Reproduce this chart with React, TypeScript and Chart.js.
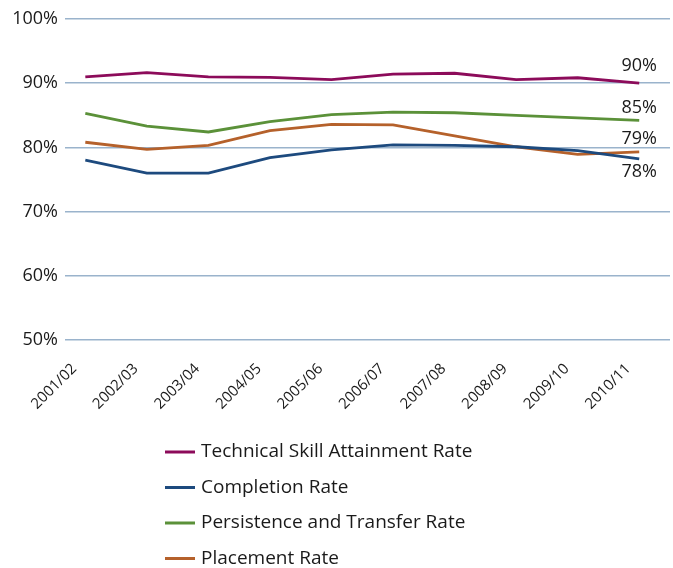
import React, { useEffect, useRef } from 'react';
import { Chart, registerables } from 'chart.js';

Chart.register(...registerables);

const categories = ['2001/02', '2002/03', '2003/04', '2004/05', '2005/06', '2006/07', '2007/08', '2008/09', '2009/10', '2010/11'];
const technicalSkill = [91.0, 91.65, 91.0, 90.9, 90.55, 91.4, 91.55, 90.55, 90.85, 90.0];
const completion = [78.0, 76.0, 76.0, 78.4, 79.6, 80.4, 80.3, 80.1, 79.5, 78.2];
const persistence = [85.3, 83.3, 82.4, 84.0, 85.1, 85.5, 85.4, 85.0, 84.6, 84.2];
const placement = [80.8, 79.7, 80.3, 82.6, 83.6, 83.5, 81.8, 80.1, 78.9, 79.3];
const seriesNames = ['Technical Skill Attainment Rate', 'Completion Rate', 'Persistence and Transfer Rate', 'Placement Rate'];
const endLabels = ['90%', '78%', '85%', '79%'];
const yMin = 50;
const yMax = 100;
const yStep = 10;

const colors = ['#8C0B5A', '#1D4A7E', '#5B9139', '#B5612B'];
const FONT = '"Open Sans", "Noto Sans", sans-serif';

const endLabelPlugin = {
  id: 'endLabels',
  afterDatasetsDraw(chart: any) {
    const ctx = chart.ctx;
    ctx.save();
    ctx.font = `18px ${FONT}`;
    ctx.fillStyle = '#1a1a1a';
    ctx.textAlign = 'center';
    ctx.textBaseline = 'middle';
    chart.data.datasets.forEach((ds: any, i: number) => {
      const meta = chart.getDatasetMeta(i);
      const pt = meta.data[meta.data.length - 1];
      if (!pt) return;
      const below = i === 1;
      const dy = below ? 13 : (i === 0 ? -17 : -13);
      ctx.fillText(endLabels[i], pt.x, pt.y + dy);
    });
    ctx.restore();
  },
};

const legendPlugin = {
  id: 'vertLegend',
  afterDraw(chart: any) {
    const ctx = chart.ctx;
    const top = chart.chartArea.bottom + 112;
    ctx.save();
    ctx.font = `19px ${FONT}`;
    ctx.textBaseline = 'middle';
    ctx.textAlign = 'left';
    chart.data.datasets.forEach((ds: any, i: number) => {
      const y = top + i * 35.5;
      ctx.strokeStyle = ds.borderColor;
      ctx.lineWidth = 3;
      ctx.beginPath();
      ctx.moveTo(165, y);
      ctx.lineTo(195, y);
      ctx.stroke();
      ctx.fillStyle = '#1a1a1a';
      ctx.fillText(ds.label, 201, y);
    });
    ctx.restore();
  },
};

export default function App() {
  const ref = useRef<HTMLCanvasElement>(null);
  useEffect(() => {
    if (!ref.current) return;
    const series = [technicalSkill, completion, persistence, placement];
    const chart = new Chart(ref.current, {
      type: 'line',
      data: {
        datasets: series.map((vals, i) => ({
          label: seriesNames[i],
          data: vals.map((v, k) => ({ x: k, y: v })),
          borderColor: colors[i],
          backgroundColor: colors[i],
          borderWidth: 2.8,
          pointRadius: 0,
          tension: 0,
          fill: false,
        })),
      },
      options: {
        animation: false,
        responsive: false,
        maintainAspectRatio: false,
        layout: { padding: { top: 19, right: 3, bottom: 148, left: 0 } },
        plugins: {
          legend: { display: false },
          tooltip: { enabled: false },
        },
        scales: {
          x: {
            type: 'linear',
            min: -0.33,
            max: 9.5,
            grid: { display: false },
            border: { display: false },
            afterFit: (scale: any) => { scale.height = 80; },
            ticks: {
              stepSize: 1,
              includeBounds: false,
              autoSkip: false,
              maxRotation: 45,
              minRotation: 45,
              padding: 12,
              labelOffset: -11,
              color: '#1a1a1a',
              font: { family: FONT, size: 15 },
              callback: (v: any) => (Number.isInteger(v) && categories[v] ? categories[v] : ''),
            },
          },
          y: {
            min: yMin,
            max: yMax,
            afterFit: (scale: any) => { scale.width = 65; },
            grid: { color: '#9AB3CC', lineWidth: 1.5, drawTicks: false },
            border: { display: false },
            ticks: {
              stepSize: yStep,
              padding: 7,
              color: '#1a1a1a',
              font: { family: FONT, size: 18 },
              callback: (v: any) => `${v}%`,
            },
          },
        },
      },
      plugins: [endLabelPlugin, legendPlugin],
    });
    return () => chart.destroy();
  }, []);
  return (
    <div style={{ position: 'absolute', left: 0, top: 0, width: 673, height: 568, background: '#fff' }}>
      <canvas ref={ref} width={673} height={568} style={{ display: 'block', width: 673, height: 568 }} />
    </div>
  );
}
